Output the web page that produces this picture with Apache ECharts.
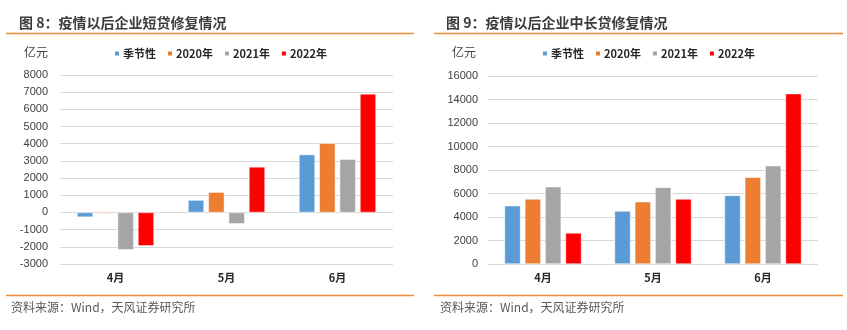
<!DOCTYPE html>
<html><head><meta charset="utf-8">
<script src="https://cdn.jsdelivr.net/npm/echarts@6/dist/echarts.min.js"></script>
<style>html,body{margin:0;padding:0;background:#fff}#c{width:847px;height:330px}</style>
</head><body><div id="c"></div>
<script>
const categories = ['4月', '5月', '6月'];
const seriesNames = ['季节性', '2020年', '2021年', '2022年'];
// Figure 8: short-term loans (亿元)
const short_seasonal = [-270, 720, 3370];
const short_2020 = [-60, 1180, 4030];
const short_2021 = [-2170, -660, 3100];
const short_2022 = [-1940, 2650, 6900];
// Figure 9: medium/long-term loans (亿元)
const long_seasonal = [4960, 4510, 5840];
const long_2020 = [5530, 5300, 7380];
const long_2021 = [6580, 6520, 8370];
const long_2022 = [2640, 5530, 14500];
const colors = ['#5B9BD5', '#ED7D31', '#A5A5A5', '#FF0000'];

const font = '"Liberation Sans", Arial, "Noto Sans CJK SC", sans-serif';
const cjk = '"Noto Sans CJK SC", sans-serif';
const chart = echarts.init(document.getElementById('c'), null, {renderer: 'canvas'});

function yAx(gi, min, max, interval, margin) {
  return {
    type: 'value', gridIndex: gi, min: min, max: max, interval: interval,
    axisLine: {show: false}, axisTick: {show: false},
    axisLabel: {color: '#404040', fontSize: 11, fontFamily: font, margin: margin, formatter: v => String(v)},
    splitLine: {lineStyle: {color: '#D9D9D9', width: 1}}
  };
}
function xAx(gi) {
  return {
    type: 'category', gridIndex: gi, data: categories,
    axisLine: {show: false}, axisTick: {show: false},
    axisLabel: {color: '#262626', fontSize: 11, fontWeight: 'bold', fontFamily: cjk, margin: 8}
  };
}
const shortData = [short_seasonal, short_2020, short_2021, short_2022];
const longData = [long_seasonal, long_2020, long_2021, long_2022];
const series = [];
[shortData, longData].forEach((set, gi) => {
  set.forEach((d, i) => {
    series.push({
      type: 'bar', name: seriesNames[i], xAxisIndex: gi, yAxisIndex: gi, data: d,
      barWidth: 16, barGap: '27%', barCategoryGap: '31%',
      itemStyle: {color: colors[i], borderColor: '#fff', borderWidth: 0.5},
      emphasis: {disabled: true}
    });
  });
});
function legend(left) {
  return {
    data: seriesNames, left: left, top: 43, itemWidth: 6, itemHeight: 6, itemGap: 10,
    icon: 'rect',
    formatter: n => '{b|' + n + '}',
    textStyle: {fontSize: 11, fontWeight: 'bold', color: '#262626', fontFamily: cjk, padding: [0,0,0,-2],
      rich: {b: {fontSize: 11, fontWeight: 'bold', color: '#262626', fontFamily: cjk}}},
    selectedMode: false
  };
}
chart.setOption({
  animation: false,
  color: colors,
  title: [
    {text: '图 8：疫情以后企业短贷修复情况', left: 14, top: 11, textStyle: {fontSize: 14, fontWeight: 700, color: '#3b3b3b', fontFamily: cjk}},
    {text: '图 9：疫情以后企业中长贷修复情况', left: 441, top: 11, textStyle: {fontSize: 14, fontWeight: 700, color: '#3b3b3b', fontFamily: cjk}}
  ],
  legend: [legend(108), legend(536)],
  grid: [
    {left: 60, top: 75, width: 333, height: 189},
    {left: 488, top: 76, width: 330, height: 188}
  ],
  xAxis: [xAx(0), xAx(1)],
  yAxis: [yAx(0, -3000, 8000, 1000, 12), yAx(1, 0, 16000, 2000, 10)],
  series: series,
  graphic: [
    {type: 'line', shape: {x1: 6, y1: 33.5, x2: 414, y2: 33.5}, style: {stroke: '#E98B3A', lineWidth: 1.5}},
    {type: 'line', shape: {x1: 434, y1: 33.5, x2: 843, y2: 33.5}, style: {stroke: '#E98B3A', lineWidth: 1.5}},
    {type: 'line', shape: {x1: 6, y1: 295.5, x2: 414, y2: 295.5}, style: {stroke: '#E98B3A', lineWidth: 1.5}},
    {type: 'line', shape: {x1: 434, y1: 295.5, x2: 843, y2: 295.5}, style: {stroke: '#E98B3A', lineWidth: 1.5}},
    {type: 'text', left: 24, top: 46, style: {text: '亿元', fontSize: 12, fill: '#404040', fontFamily: cjk}},
    {type: 'text', left: 452, top: 46, style: {text: '亿元', fontSize: 12, fill: '#404040', fontFamily: cjk}},
    {type: 'text', left: 11, top: 301, style: {text: '资料来源：Wind，天风证券研究所', fontSize: 12, fill: '#595959', fontFamily: cjk}},
    {type: 'text', left: 440, top: 301, style: {text: '资料来源：Wind，天风证券研究所', fontSize: 12, fill: '#595959', fontFamily: cjk}}
  ]
});
</script></body></html>
